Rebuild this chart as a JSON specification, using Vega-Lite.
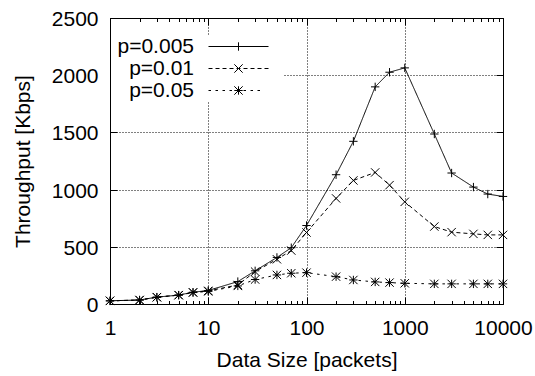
{
  "$schema": "https://vega.github.io/schema/vega-lite/v6.json",
  "width": 393,
  "height": 286,
  "autosize": {"type": "none"},
  "padding": {"left": 110, "top": 18, "right": 32, "bottom": 72},
  "config": {
    "font": "Liberation Sans",
    "view": {"stroke": null},
    "axis": {
      "domainColor": "black",
      "tickColor": "black",
      "labelColor": "black",
      "titleColor": "black",
      "labelFont": "Liberation Sans",
      "titleFont": "Liberation Sans",
      "labelFontSize": 21,
      "titleFontSize": 21,
      "titleFontWeight": "normal",
      "labelFlush": false,
      "labelOverlap": false,
      "gridColor": "black",
      "gridDash": [1, 2],
      "tickWidth": 1,
      "domainWidth": 1
    }
  },
  "data": {
    "values": [
      {"x": 1, "y": 28, "series": "p=0.005"},
      {"x": 2, "y": 35, "series": "p=0.005"},
      {"x": 3, "y": 60, "series": "p=0.005"},
      {"x": 5, "y": 78, "series": "p=0.005"},
      {"x": 7, "y": 103, "series": "p=0.005"},
      {"x": 10, "y": 118, "series": "p=0.005"},
      {"x": 20, "y": 196, "series": "p=0.005"},
      {"x": 30, "y": 290, "series": "p=0.005"},
      {"x": 50, "y": 407, "series": "p=0.005"},
      {"x": 70, "y": 492, "series": "p=0.005"},
      {"x": 100, "y": 686, "series": "p=0.005"},
      {"x": 200, "y": 1130, "series": "p=0.005"},
      {"x": 300, "y": 1422, "series": "p=0.005"},
      {"x": 500, "y": 1898, "series": "p=0.005"},
      {"x": 700, "y": 2026, "series": "p=0.005"},
      {"x": 1000, "y": 2064, "series": "p=0.005"},
      {"x": 2000, "y": 1486, "series": "p=0.005"},
      {"x": 3000, "y": 1145, "series": "p=0.005"},
      {"x": 5000, "y": 1022, "series": "p=0.005"},
      {"x": 7000, "y": 961, "series": "p=0.005"},
      {"x": 10000, "y": 940, "series": "p=0.005"},
      {"x": 1, "y": 28, "series": "p=0.01"},
      {"x": 2, "y": 35, "series": "p=0.01"},
      {"x": 3, "y": 60, "series": "p=0.01"},
      {"x": 5, "y": 78, "series": "p=0.01"},
      {"x": 7, "y": 102, "series": "p=0.01"},
      {"x": 10, "y": 115, "series": "p=0.01"},
      {"x": 20, "y": 166, "series": "p=0.01"},
      {"x": 30, "y": 283, "series": "p=0.01"},
      {"x": 50, "y": 391, "series": "p=0.01"},
      {"x": 70, "y": 467, "series": "p=0.01"},
      {"x": 100, "y": 625, "series": "p=0.01"},
      {"x": 200, "y": 923, "series": "p=0.01"},
      {"x": 300, "y": 1080, "series": "p=0.01"},
      {"x": 500, "y": 1150, "series": "p=0.01"},
      {"x": 700, "y": 1039, "series": "p=0.01"},
      {"x": 1000, "y": 893, "series": "p=0.01"},
      {"x": 2000, "y": 677, "series": "p=0.01"},
      {"x": 3000, "y": 628, "series": "p=0.01"},
      {"x": 5000, "y": 613, "series": "p=0.01"},
      {"x": 7000, "y": 604, "series": "p=0.01"},
      {"x": 10000, "y": 604, "series": "p=0.01"},
      {"x": 1, "y": 27, "series": "p=0.05"},
      {"x": 2, "y": 34, "series": "p=0.05"},
      {"x": 3, "y": 59, "series": "p=0.05"},
      {"x": 5, "y": 77, "series": "p=0.05"},
      {"x": 7, "y": 100, "series": "p=0.05"},
      {"x": 10, "y": 110, "series": "p=0.05"},
      {"x": 20, "y": 158, "series": "p=0.05"},
      {"x": 30, "y": 214, "series": "p=0.05"},
      {"x": 50, "y": 254, "series": "p=0.05"},
      {"x": 70, "y": 269, "series": "p=0.05"},
      {"x": 100, "y": 274, "series": "p=0.05"},
      {"x": 200, "y": 239, "series": "p=0.05"},
      {"x": 300, "y": 210, "series": "p=0.05"},
      {"x": 500, "y": 193, "series": "p=0.05"},
      {"x": 700, "y": 187, "series": "p=0.05"},
      {"x": 1000, "y": 181, "series": "p=0.05"},
      {"x": 2000, "y": 176, "series": "p=0.05"},
      {"x": 3000, "y": 176, "series": "p=0.05"},
      {"x": 5000, "y": 176, "series": "p=0.05"},
      {"x": 7000, "y": 176, "series": "p=0.05"},
      {"x": 10000, "y": 176, "series": "p=0.05"}
    ]
  },
  "layer": [
    {
      "mark": {"type": "line", "color": "black", "strokeWidth": 1},
      "encoding": {
        "x": {
          "field": "x", "type": "quantitative",
          "scale": {"type": "log", "domain": [1, 10000], "nice": false},
          "axis": {
            "orient": "bottom",
            "title": "Data Size [packets]",
            "values": [1,2,3,4,5,6,7,8,9,10,20,30,40,50,60,70,80,90,100,200,300,400,500,600,700,800,900,1000,2000,3000,4000,5000,6000,7000,8000,9000,10000],
            "format": "d",
            "labelExpr": "indexof([1,10,100,1000,10000], datum.value) >= 0 ? datum.label : ''",
            "grid": true,
            "gridOpacity": {"condition": {"test": "indexof([1,10,100,1000,10000], datum.value) >= 0", "value": 1}, "value": 0},
            "tickSize": {"condition": {"test": "indexof([1,10,100,1000,10000], datum.value) >= 0", "value": -7}, "value": -3.5},
            "labelPadding": 20,
            "titleY": 62,
            "titleBaseline": "alphabetic"
          }
        },
        "y": {
          "field": "y", "type": "quantitative",
          "scale": {"domain": [0, 2500], "nice": false},
          "axis": {
            "orient": "left",
            "title": "Throughput [Kbps]",
            "values": [0, 500, 1000, 1500, 2000, 2500],
            "format": "d",
            "grid": true,
            "tickSize": -7,
            "labelPadding": 19,
            "labelOffset": 1.5,
            "titleX": -81,
            "titleY": 143,
            "titleAngle": 270,
            "titleAlign": "center",
            "titleBaseline": "alphabetic"
          }
        },
        "strokeDash": {
          "field": "series", "type": "nominal",
          "scale": {"domain": ["p=0.005", "p=0.01", "p=0.05"], "range": [[1, 0], [4, 3], [2.5, 4.5]]},
          "legend": null
        }
      }
    },
    {
      "mark": {"type": "point", "filled": false, "stroke": "black", "strokeWidth": 1, "size": 70, "opacity": 1},
      "encoding": {
        "x": {
          "field": "x", "type": "quantitative",
          "scale": {"type": "log", "domain": [1, 10000], "nice": false},
          "axis": {
            "orient": "top",
            "title": null,
            "labels": false,
            "grid": false,
            "values": [1,2,3,4,5,6,7,8,9,10,20,30,40,50,60,70,80,90,100,200,300,400,500,600,700,800,900,1000,2000,3000,4000,5000,6000,7000,8000,9000,10000],
            "tickSize": {"condition": {"test": "indexof([1,10,100,1000,10000], datum.value) >= 0", "value": -7}, "value": -3.5}
          }
        },
        "y": {
          "field": "y", "type": "quantitative",
          "scale": {"domain": [0, 2500], "nice": false},
          "axis": {
            "orient": "right",
            "title": null,
            "labels": false,
            "grid": false,
            "values": [0, 500, 1000, 1500, 2000, 2500],
            "tickSize": -7
          }
        },
        "shape": {
          "field": "series", "type": "nominal",
          "scale": {"domain": ["p=0.005", "p=0.01", "p=0.05"], "range": ["M-1,0H1M0,-1V1", "M-1,-1L1,1M-1,1L1,-1", "M-1,0H1M0,-1V1M-1,-1L1,1M-1,1L1,-1"]},
          "legend": null
        }
      }
    },
    {
      "transform": [{"filter": "datum.x < 0"}],
      "mark": {"type": "point", "filled": false, "stroke": "black", "strokeWidth": 1, "size": 100, "opacity": 1},
      "encoding": {
        "x": {
          "field": "x", "type": "quantitative",
          "scale": {"type": "log", "domain": [1, 10000], "nice": false},
          "axis": null
        },
        "y": {
          "field": "y", "type": "quantitative",
          "scale": {"domain": [0, 2500], "nice": false},
          "axis": null
        },
        "shape": {
          "field": "series", "type": "nominal",
          "scale": {
            "domain": ["p=0.005", "p=0.01", "p=0.05"],
            "range": [
              "M-25.4,0M-6,0H6M0,-0.84V0.84M8.5,0",
              "M-25.4,0M-6,0H-5.2M-4.6,0H-3.8M-3.2,0H-2.4M-1.8,0H-1M-0.4,0H0.4M1,0H1.8M2.4,0H3.2M3.8,0H4.6M5.2,0H6M-0.84,-0.84L0.84,0.84M-0.84,0.84L0.84,-0.84M8.5,0",
              "M-25.4,0M-6,0H-5.5M-4.6,0H-4.1M-3.2,0H-2.7M-1.8,0H-1.3M1,0H1.5M2.4,0H2.9M3.8,0H4.3M-0.84,0H0.84M0,-0.84V0.84M-0.84,-0.84L0.84,0.84M-0.84,0.84L0.84,-0.84M8.5,0"
            ]
          },
          "legend": {
            "title": null,
            "orient": "none",
            "legendX": 1,
            "legendY": 18,
            "padding": 0,
            "fillColor": "white",
            "strokeColor": null,
            "rowPadding": 0,
            "symbolSize": 100,
            "symbolStrokeWidth": 1,
            "symbolStrokeColor": "black",
            "symbolOpacity": 1,
            "symbolOffset": 117,
            "labelOffset": -55,
            "labelAlign": "right",
            "labelFont": "Liberation Sans",
            "labelFontSize": 21,
            "labelColor": "black",
            "labelLimit": 300
          }
        }
      }
    }
  ],
  "resolve": {
    "scale": {"shape": "independent"},
    "axis": {"x": "independent", "y": "independent"}
  }
}
